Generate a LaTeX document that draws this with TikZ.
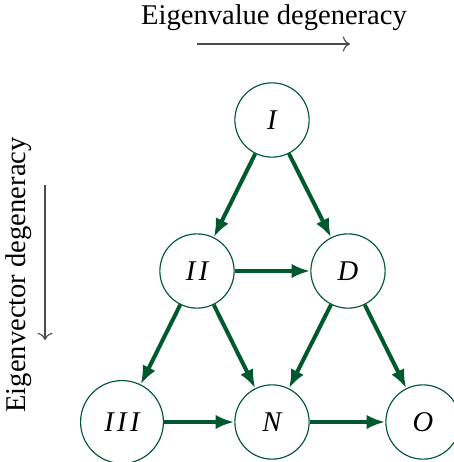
\documentclass[tikz,border=0pt]{standalone}
\usepackage{fontspec}
\setmainfont{Liberation Serif}
\usetikzlibrary{arrows.meta}
\definecolor{degreen}{RGB}{0,88,46}
\newcommand{\rmI}{I\kern1.2pt}

\begin{document}
\begin{tikzpicture}[x=.35pt,y=-.35pt,
  state/.style={draw=degreen,line width=.4pt,circle,minimum size=26pt,inner sep=0pt,font=\itshape},
  trans/.style={degreen,line width=1.4pt,-{Latex[length=6.5pt,width=5pt]}},
  axis/.style={black!70,line width=.4pt,-{To[length=2.5pt]}}]
\path[use as bounding box] (0,0) rectangle (454,462);
% axes
\node (evtext) at (274,18) {Eigenvalue degeneracy};
\coordinate (evstart) at (197,44);
\coordinate (evend) at (350,44);
\draw[axis] (evstart)--(evend);
\node[rotate=90] (vectext) at (19,275) {Eigenvector degeneracy};
\coordinate (vecstart) at (45,185);
\coordinate (vecend) at (45,340);
\draw[axis] (vecstart)--(vecend);
% classes
\node[state] (I) at (272,120) {I};
\node[state] (II) at (197,271) {\rmI I};
\node[state] (D) at (348,271) {D};
\node[state,minimum size=29pt] (III) at (122,422) {\rmI\rmI I};
\node[state] (N) at (272,422) {N};
\node[state] (O) at (423,422) {O};
% transitions
\draw[trans] (I)--(II);
\draw[trans] (I)--(D);
\draw[trans] (II)--(D);
\draw[trans] (II)--(III);
\draw[trans] (II)--(N);
\draw[trans] (D)--(N);
\draw[trans] (D)--(O);
\draw[trans] (III)--(N);
\draw[trans] (N)--(O);
\end{tikzpicture}
\end{document}
